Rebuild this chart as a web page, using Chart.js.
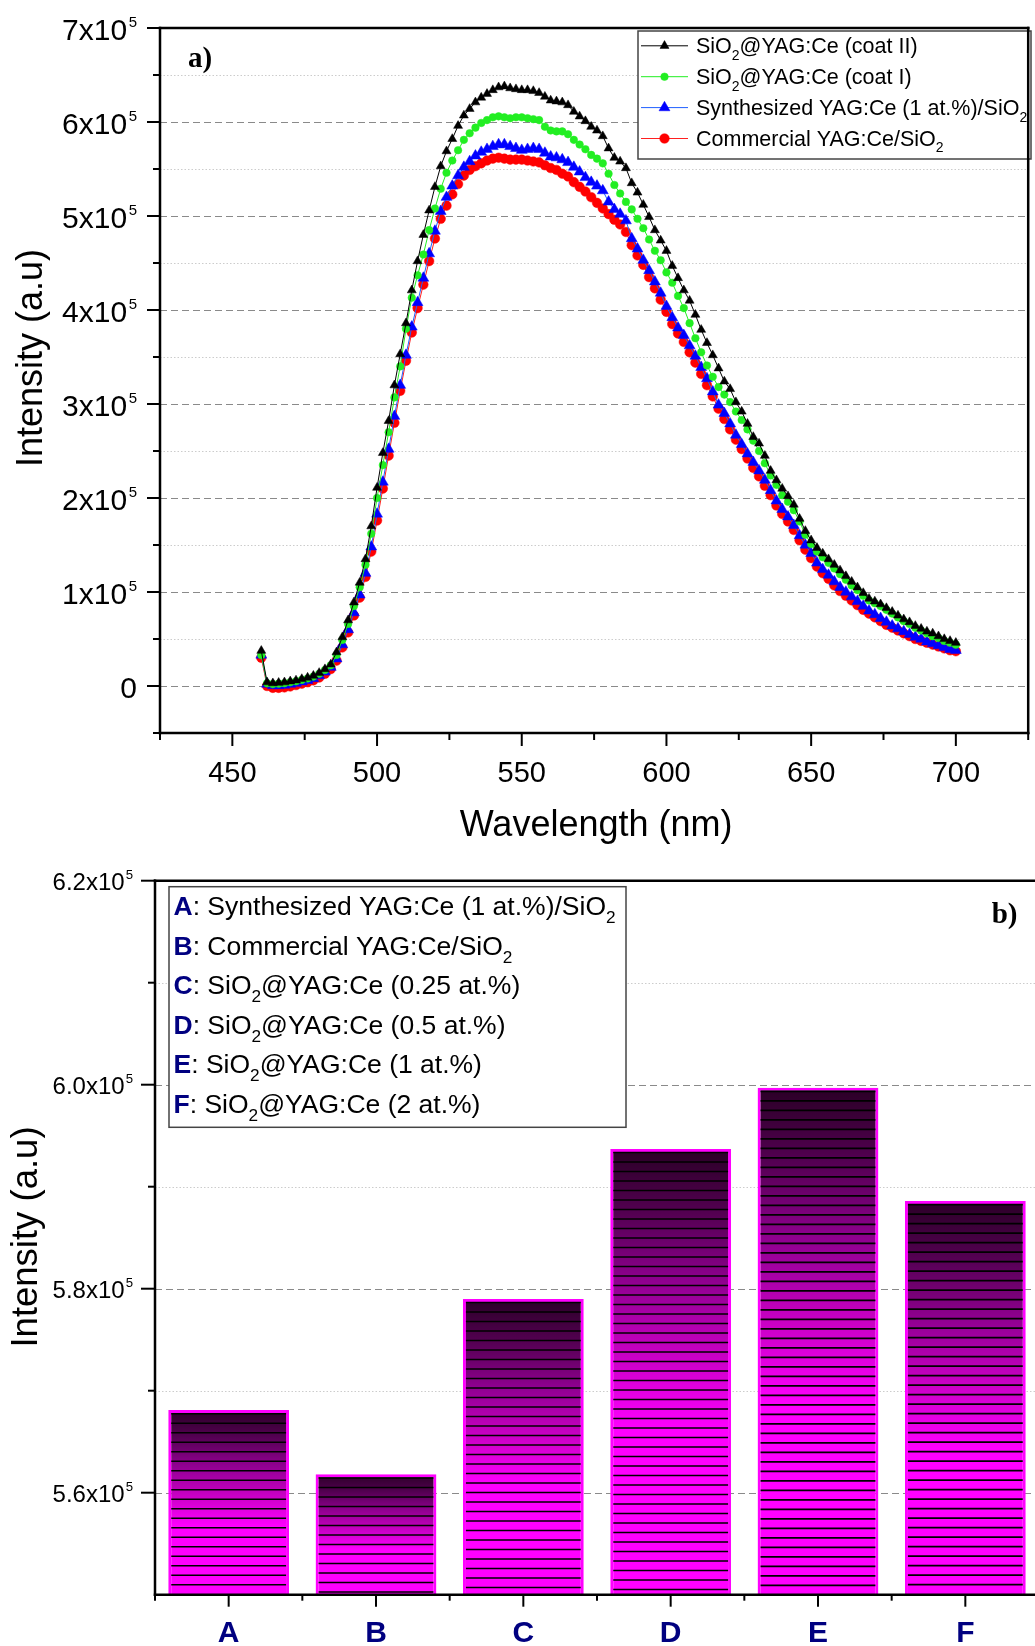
<!DOCTYPE html>
<html>
<head>
<meta charset="utf-8">
<script src="https://cdn.jsdelivr.net/npm/chart.js"></script>
<style>
  html, body { margin: 0; padding: 0; background: #fff; overflow: hidden; }
  #wrap { position: relative; width: 1035px; height: 1646px; overflow: hidden; background: #fff; }
  #topChart { position: absolute; left: 0; top: 0; }
  #barChart { position: absolute; left: 0; top: 845px; }
</style>
</head>
<body>
<div id="wrap">
  <canvas id="topChart" width="1035" height="845"></canvas>
  <canvas id="barChart" width="1045" height="801"></canvas>
</div>
<script>
// ---- panel a) emission spectra, intensity in units of 1e5 ----
const wavelengths = [
  460, 462, 464, 466, 468, 470, 472, 474, 476, 478,
  480, 482, 484, 486, 488, 490, 492, 494, 496, 498,
  500, 502, 504, 506, 508, 510, 512, 514, 516, 518,
  520, 522, 524, 526, 528, 530, 532, 534, 536, 538,
  540, 542, 544, 546, 548, 550, 552, 554, 556, 558,
  560, 562, 564, 566, 568, 570, 572, 574, 576, 578,
  580, 582, 584, 586, 588, 590, 592, 594, 596, 598,
  600, 602, 604, 606, 608, 610, 612, 614, 616, 618,
  620, 622, 624, 626, 628, 630, 632, 634, 636, 638,
  640, 642, 644, 646, 648, 650, 652, 654, 656, 658,
  660, 662, 664, 666, 668, 670, 672, 674, 676, 678,
  680, 682, 684, 686, 688, 690, 692, 694, 696, 698,
  700
];
const coatII = [
  0.375, 0.04, 0.03, 0.035, 0.04, 0.05, 0.06, 0.075, 0.09, 0.11,
  0.14, 0.18, 0.23, 0.36, 0.52, 0.70, 0.89, 1.10, 1.35, 1.70,
  2.11, 2.48, 2.82, 3.20, 3.53, 3.86, 4.21, 4.52, 4.80, 5.06,
  5.31, 5.53, 5.69, 5.82, 5.96, 6.07, 6.14, 6.21, 6.26, 6.30,
  6.34, 6.37, 6.38, 6.36, 6.35, 6.34, 6.34, 6.33, 6.31, 6.27,
  6.23, 6.22, 6.21, 6.18, 6.11, 6.06, 6.01, 5.95, 5.91, 5.85,
  5.72, 5.62, 5.58, 5.51, 5.35, 5.25, 5.12, 4.99, 4.85, 4.74,
  4.63, 4.47, 4.34, 4.21, 4.10, 3.95, 3.79, 3.65, 3.52, 3.38,
  3.24, 3.16, 3.02, 2.92, 2.79, 2.65, 2.58, 2.45, 2.29, 2.19,
  2.10, 2.02, 1.93, 1.78, 1.65, 1.55, 1.47, 1.41, 1.35, 1.29,
  1.23, 1.17, 1.11, 1.05, 0.99, 0.93, 0.90, 0.87, 0.83, 0.79,
  0.75, 0.71, 0.68, 0.64, 0.61, 0.58, 0.56, 0.53, 0.50, 0.48,
  0.46
];
const coatI = [
  0.33, 0.03, 0.02, 0.025, 0.03, 0.04, 0.05, 0.065, 0.08, 0.10,
  0.13, 0.17, 0.22, 0.33, 0.49, 0.66, 0.85, 1.05, 1.29, 1.62,
  2.00, 2.35, 2.70, 3.07, 3.40, 3.80, 4.13, 4.37, 4.59, 4.85,
  5.08, 5.29, 5.46, 5.59, 5.70, 5.81, 5.88, 5.94, 5.99, 6.02,
  6.05, 6.06, 6.05, 6.04, 6.05, 6.05, 6.04, 6.03, 6.02, 5.95,
  5.91, 5.90, 5.90, 5.87, 5.81, 5.76, 5.71, 5.65, 5.61, 5.56,
  5.45, 5.33, 5.24, 5.15, 5.07, 4.97, 4.87, 4.75, 4.63, 4.53,
  4.40, 4.29, 4.15, 4.02, 3.86, 3.70, 3.55, 3.41, 3.29, 3.18,
  3.10, 3.02, 2.92, 2.83, 2.73, 2.61, 2.50, 2.37, 2.24, 2.14,
  2.03, 1.96, 1.87, 1.75, 1.61, 1.51, 1.43, 1.37, 1.31, 1.25,
  1.19, 1.13, 1.07, 1.02, 0.96, 0.91, 0.88, 0.85, 0.81, 0.77,
  0.73, 0.69, 0.66, 0.62, 0.59, 0.56, 0.53, 0.51, 0.48, 0.46,
  0.44
];
const synthesized = [
  0.33, 0.02, 0.005, 0.005, 0.01, 0.02, 0.03, 0.045, 0.06, 0.08,
  0.11, 0.15, 0.20, 0.29, 0.44, 0.60, 0.78, 0.97, 1.20, 1.48,
  1.83, 2.17, 2.52, 2.87, 3.20, 3.52, 3.82, 4.08, 4.34, 4.60,
  4.84, 5.05, 5.20, 5.32, 5.43, 5.52, 5.58, 5.64, 5.68, 5.71,
  5.74, 5.76, 5.76, 5.74, 5.72, 5.70, 5.71, 5.72, 5.71, 5.67,
  5.63, 5.62, 5.60, 5.57, 5.52, 5.47, 5.41, 5.36, 5.32, 5.27,
  5.15, 5.07, 5.02, 4.95, 4.76, 4.65, 4.53, 4.42, 4.30, 4.18,
  4.04, 3.92, 3.81, 3.73, 3.62, 3.51, 3.39, 3.27, 3.13, 2.99,
  2.90, 2.79, 2.67, 2.57, 2.47, 2.38, 2.29, 2.19, 2.08, 1.97,
  1.88, 1.80, 1.71, 1.60, 1.50, 1.41, 1.31, 1.24, 1.18, 1.11,
  1.05, 1.00, 0.95, 0.90, 0.85, 0.80, 0.76, 0.72, 0.68, 0.64,
  0.61, 0.58, 0.55, 0.52, 0.50, 0.47, 0.45, 0.43, 0.41, 0.39,
  0.38
];
const commercial = [
  0.30, 0.00, -0.02, -0.02, -0.015, -0.005, 0.01, 0.025, 0.04, 0.06,
  0.09, 0.13, 0.18, 0.27, 0.41, 0.57, 0.75, 0.94, 1.16, 1.43,
  1.76, 2.10, 2.45, 2.80, 3.14, 3.46, 3.76, 4.02, 4.27, 4.52,
  4.76, 4.97, 5.11, 5.23, 5.34, 5.43, 5.49, 5.53, 5.56, 5.59,
  5.61, 5.62, 5.61, 5.60, 5.60, 5.60, 5.59, 5.58, 5.57, 5.54,
  5.51, 5.49, 5.45, 5.42, 5.36, 5.31, 5.26, 5.20, 5.14, 5.08,
  5.02, 4.96, 4.91, 4.83, 4.69, 4.58, 4.48, 4.35, 4.23, 4.11,
  3.98, 3.85, 3.75, 3.66, 3.55, 3.44, 3.32, 3.20, 3.08, 2.95,
  2.84, 2.73, 2.62, 2.52, 2.42, 2.32, 2.23, 2.13, 2.03, 1.92,
  1.83, 1.75, 1.66, 1.55, 1.45, 1.36, 1.27, 1.20, 1.14, 1.07,
  1.01, 0.96, 0.91, 0.86, 0.81, 0.77, 0.73, 0.69, 0.65, 0.62,
  0.59, 0.56, 0.53, 0.50, 0.48, 0.46, 0.44, 0.42, 0.40, 0.38,
  0.37
];
const seriesLabels = [
  'SiO_{2}@YAG:Ce (coat II)',
  'SiO_{2}@YAG:Ce (coat I)',
  'Synthesized YAG:Ce (1 at.%)/SiO_{2}',
  'Commercial YAG:Ce/SiO_{2}'
];
const topYTicks = [0, 1, 2, 3, 4, 5, 6, 7];
const topYTickLabels = ['0', '1x10^{5}', '2x10^{5}', '3x10^{5}', '4x10^{5}', '5x10^{5}', '6x10^{5}', '7x10^{5}'];
const topYMinor = [0.5, 1.5, 2.5, 3.5, 4.5, 5.5, 6.5];
const topXTicks = [450, 500, 550, 600, 650, 700];
const topXMinor = [425, 475, 525, 575, 625, 675, 725];

// ---- panel b) integrated intensity, units of 1e5 ----
const barLabels = ['A', 'B', 'C', 'D', 'E', 'F'];
const barValues = [5.681, 5.618, 5.790, 5.937, 5.997, 5.886];
const barNames = [
  'Synthesized YAG:Ce (1 at.%)/SiO_{2}',
  'Commercial YAG:Ce/SiO_{2}',
  'SiO_{2}@YAG:Ce (0.25 at.%)',
  'SiO_{2}@YAG:Ce (0.5 at.%)',
  'SiO_{2}@YAG:Ce (1 at.%)',
  'SiO_{2}@YAG:Ce (2 at.%)'
];
const barYTicks = [5.6, 5.8, 6.0, 6.2];
const barYTickLabels = ['5.6x10^{5}', '5.8x10^{5}', '6.0x10^{5}', '6.2x10^{5}'];
const barYMinor = [5.7, 5.9, 6.1];

const SANS = "'Liberation Sans', Arial, sans-serif";
const SERIF = "'Liberation Serif', 'Times New Roman', serif";
const NAVY = '#000080';

// small rich text helper: _{..} subscript, ^{..} superscript
function parseRich(s) {
  const out = [];
  const re = /([_^])\{([^}]*)\}/g;
  let last = 0, m;
  while ((m = re.exec(s))) {
    if (m.index > last) out.push({ t: s.slice(last, m.index), k: 'n' });
    out.push({ t: m[2], k: m[1] === '_' ? 'sub' : 'sup' });
    last = re.lastIndex;
  }
  if (last < s.length) out.push({ t: s.slice(last), k: 'n' });
  return out;
}
function drawRich(ctx, s, x, y, o) {
  const size = o.size, small = size * (o.ratio || 0.65);
  const fam = o.family || SANS, wt = o.weight || 'normal';
  const gap = o.gap || 0;
  const segs = parseRich(s);
  let w = 0;
  segs.forEach(sg => {
    ctx.font = wt + ' ' + (sg.k === 'n' ? size : small) + 'px ' + fam;
    sg.w = ctx.measureText(sg.t).width + (sg.k === 'sup' ? gap : 0);
    w += sg.w;
  });
  let cx = o.align === 'right' ? x - w : o.align === 'center' ? x - w / 2 : x;
  ctx.textAlign = 'left';
  ctx.textBaseline = 'alphabetic';
  ctx.fillStyle = o.color || '#000';
  segs.forEach(sg => {
    ctx.font = wt + ' ' + (sg.k === 'n' ? size : small) + 'px ' + fam;
    const dy = sg.k === 'sub' ? size * 0.3 : sg.k === 'sup' ? -size * (o.supRise || 0.42) : 0;
    ctx.fillText(sg.t, cx + (sg.k === 'sup' ? gap : 0), y + dy);
    cx += sg.w;
  });
  return w;
}
function seg(ctx, x1, y1, x2, y2) {
  ctx.beginPath(); ctx.moveTo(x1, y1); ctx.lineTo(x2, y2); ctx.stroke();
}
function marker(ctx, style, r, x, y, color) {
  ctx.fillStyle = color;
  ctx.strokeStyle = color;
  ctx.lineWidth = 0.5;
  ctx.beginPath();
  if (style === 'triangle') {
    ctx.moveTo(x, y - r);
    ctx.lineTo(x + 0.866 * r, y + 0.5 * r);
    ctx.lineTo(x - 0.866 * r, y + 0.5 * r);
    ctx.closePath();
  } else {
    ctx.arc(x, y, r, 0, Math.PI * 2);
  }
  ctx.fill(); ctx.stroke();
}

const seriesStyle = [
  { color: '#000000', line: '#000000', style: 'triangle', r: 5.2 },
  { color: '#22ee22', line: '#22ee22', style: 'circle', r: 3.8 },
  { color: '#0000ff', line: '#1f5fff', style: 'triangle', r: 6.3 },
  { color: '#ff0000', line: '#ff2020', style: 'circle', r: 4.8 }
];
const seriesValues = [coatII, coatI, synthesized, commercial];

const topDecor = {
  id: 'topDecor',
  beforeDatasetsDraw(chart) {
    const { ctx, chartArea: a, scales: { y } } = chart;
    ctx.save();
    ctx.lineWidth = 1;
    ctx.strokeStyle = '#cccccc';
    ctx.setLineDash([1.5, 2]);
    topYMinor.forEach(v => {
      const py = Math.round(y.getPixelForValue(v)) + 0.5;
      seg(ctx, a.left, py, a.right, py);
    });
    ctx.strokeStyle = '#8a8a8a';
    ctx.lineWidth = 1.2;
    ctx.setLineDash([7, 4]);
    topYTicks.forEach(v => {
      if (v >= y.max) return;
      const py = Math.round(y.getPixelForValue(v)) + 0.5;
      seg(ctx, a.left, py, a.right, py);
    });
    ctx.restore();
  },
  afterDatasetsDraw(chart) {
    const { ctx, chartArea: a, scales: { x, y } } = chart;
    ctx.save();
    // legend
    const lx = 638, ly = 31, lw = 393, lh = 128;
    ctx.fillStyle = '#fff';
    ctx.fillRect(lx, ly, lw, lh);
    ctx.strokeStyle = '#444';
    ctx.lineWidth = 1.5;
    ctx.strokeRect(lx, ly, lw, lh);
    chart.data.datasets.forEach((ds, i) => {
      const st = seriesStyle[i];
      const base = 53.3 + i * 30.9;
      const my = base - 7.5;
      ctx.strokeStyle = st.line;
      ctx.lineWidth = 1;
      seg(ctx, 641, my, 688, my);
      marker(ctx, st.style, st.r, 664.5, my, st.color);
      drawRich(ctx, ds.label, 696, base, { size: 21.5 });
    });
    // axes
    ctx.strokeStyle = '#000';
    ctx.lineWidth = 2.5;
    ctx.lineCap = 'square';
    seg(ctx, a.left, a.top, a.left, a.bottom);
    seg(ctx, a.left, a.bottom, a.right, a.bottom);
    seg(ctx, a.left, a.top, a.right, a.top);
    seg(ctx, a.right, a.top, a.right, a.bottom);
    ctx.lineCap = 'butt';
    ctx.lineWidth = 2;
    topYTicks.forEach((v, i) => {
      const py = y.getPixelForValue(v);
      seg(ctx, a.left - 13, py, a.left, py);
      drawRich(ctx, topYTickLabels[i], 137, py + 12, { size: 30, ratio: 0.5, gap: 1.5, supRise: 0.45, align: 'right' });
    });
    topYMinor.concat([-0.5]).forEach(v => {
      const py = y.getPixelForValue(v);
      seg(ctx, a.left - 7, py, a.left, py);
    });
    topXTicks.forEach(v => {
      const px = x.getPixelForValue(v);
      seg(ctx, px, a.bottom, px, a.bottom + 13);
      drawRich(ctx, String(v), px, a.bottom + 49, { size: 29, align: 'center' });
    });
    topXMinor.forEach(v => {
      const px = x.getPixelForValue(v);
      seg(ctx, px, a.bottom, px, a.bottom + 7);
    });
    // titles
    drawRich(ctx, 'Wavelength (nm)', (a.left + a.right) / 2 + 2, 836, { size: 36, align: 'center' });
    ctx.translate(42, 358);
    ctx.rotate(-Math.PI / 2);
    drawRich(ctx, 'Intensity (a.u)', 0, 0, { size: 36, align: 'center' });
    ctx.setTransform(1, 0, 0, 1, 0, 0);
    drawRich(ctx, 'a)', 188, 67, { size: 29, weight: 'bold', family: SERIF });
    ctx.restore();
  }
};

new Chart(document.getElementById('topChart'), {
  type: 'line',
  data: {
    datasets: seriesValues.map((vals, i) => ({
      label: seriesLabels[i],
      data: wavelengths.map((w, j) => ({ x: w, y: vals[j] })),
      borderColor: seriesStyle[i].line,
      borderWidth: 1,
      backgroundColor: seriesStyle[i].color,
      pointStyle: seriesStyle[i].style,
      pointRadius: seriesStyle[i].r,
      pointBackgroundColor: seriesStyle[i].color,
      pointBorderColor: seriesStyle[i].color,
      pointBorderWidth: 0.5,
      tension: 0,
      fill: false
    }))
  },
  options: {
    responsive: false,
    animation: false,
    events: [],
    layout: { padding: { top: 28, right: 2, left: 0, bottom: 0 } },
    plugins: { legend: { display: false }, tooltip: { enabled: false } },
    scales: {
      x: {
        type: 'linear', min: 425, max: 725,
        grid: { display: false }, border: { display: false }, ticks: { display: false },
        afterFit(s) { s.height = 112; }
      },
      y: {
        type: 'linear', min: -0.5, max: 7,
        grid: { display: false }, border: { display: false }, ticks: { display: false },
        afterFit(s) { s.width = 160; }
      }
    }
  },
  plugins: [topDecor]
});

// ---- panel b) ----
function barFill(c) {
  const y = c.chart.scales.y;
  if (!y || typeof c.raw !== 'number') return '#ff00ff';
  const top = y.getPixelForValue(c.raw), base = y.getPixelForValue(y.min);
  if (!Number.isFinite(top) || !Number.isFinite(base) || top === base) return '#ff00ff';
  const g = c.chart.ctx.createLinearGradient(0, top, 0, base);
  g.addColorStop(0, '#2a0026');
  g.addColorStop(0.14, '#520050');
  g.addColorStop(0.3, '#900090');
  g.addColorStop(0.45, '#c400c0');
  g.addColorStop(0.63, '#ff00ff');
  g.addColorStop(1, '#ff00ff');
  return g;
}

const barDecor = {
  id: 'barDecor',
  beforeDatasetsDraw(chart) {
    const { ctx, chartArea: a, scales: { y } } = chart;
    ctx.save();
    ctx.lineWidth = 1;
    ctx.strokeStyle = '#cccccc';
    ctx.setLineDash([1.5, 2]);
    barYMinor.forEach(v => {
      const py = Math.round(y.getPixelForValue(v)) + 0.5;
      seg(ctx, a.left, py, a.right, py);
    });
    ctx.strokeStyle = '#8a8a8a';
    ctx.lineWidth = 1.2;
    ctx.setLineDash([7, 4]);
    barYTicks.forEach(v => {
      if (v >= y.max) return;
      const py = Math.round(y.getPixelForValue(v)) + 0.5;
      seg(ctx, a.left, py, a.right, py);
    });
    ctx.restore();
  },
  afterDatasetsDraw(chart) {
    const { ctx, chartArea: a, scales: { x, y } } = chart;
    const meta = chart.getDatasetMeta(0);
    ctx.save();
    // horizontal stripes inside each bar, kept inside the plot area
    ctx.strokeStyle = '#000';
    ctx.lineWidth = 1.6;
    meta.data.forEach(bar => {
      const p = bar.getProps(['x', 'y', 'base', 'width'], true);
      const l = p.x - p.width / 2 + 3, r = p.x + p.width / 2 - 3;
      const bottom = Math.min(p.base, a.bottom) - 2;
      for (let sy = p.y + 3.6; sy < bottom; sy += 9.5) seg(ctx, l, sy, r, sy);
    });
    // legend
    const lx = 169, ly = 41.7, lw = 457, lh = 240.6;
    ctx.fillStyle = '#fff';
    ctx.fillRect(lx, ly, lw, lh);
    ctx.strokeStyle = '#444';
    ctx.lineWidth = 1.5;
    ctx.strokeRect(lx, ly, lw, lh);
    barLabels.forEach((lab, i) => {
      const base = 70 + i * 39.6;
      const w = drawRich(ctx, lab, 173.5, base, { size: 26.5, weight: 'bold', color: NAVY });
      drawRich(ctx, ': ' + barNames[i], 173.5 + w, base, { size: 26.5 });
    });
    // axes
    ctx.strokeStyle = '#000';
    ctx.lineWidth = 2.5;
    ctx.lineCap = 'square';
    seg(ctx, a.left, a.top, a.left, a.bottom);
    seg(ctx, a.left, a.bottom, a.right, a.bottom);
    seg(ctx, a.left, a.top, a.right, a.top);
    seg(ctx, a.right, a.top, a.right, a.bottom);
    ctx.lineCap = 'butt';
    ctx.lineWidth = 2;
    barYTicks.forEach((v, i) => {
      const py = y.getPixelForValue(v);
      seg(ctx, a.left - 14, py, a.left, py);
      drawRich(ctx, barYTickLabels[i], 133, py + 9.5, { size: 24, ratio: 0.55, gap: 1, supRise: 0.45, align: 'right' });
    });
    barYMinor.forEach(v => {
      const py = y.getPixelForValue(v);
      seg(ctx, a.left - 7, py, a.left, py);
    });
    const half = (x.getPixelForValue(1) - x.getPixelForValue(0)) / 2;
    barLabels.forEach((lab, i) => {
      const px = x.getPixelForValue(i);
      seg(ctx, px, a.bottom, px, a.bottom + 12);
      seg(ctx, px - half, a.bottom, px - half, a.bottom + 6);
      drawRich(ctx, lab, px, 797, { size: 30, weight: 'bold', color: NAVY, align: 'center' });
    });
    ctx.translate(37, 392);
    ctx.rotate(-Math.PI / 2);
    drawRich(ctx, 'Intensity (a.u)', 0, 0, { size: 36.5, align: 'center' });
    ctx.setTransform(1, 0, 0, 1, 0, 0);
    drawRich(ctx, 'b)', 991.7, 78, { size: 29, weight: 'bold', family: SERIF });
    ctx.restore();
  }
};

new Chart(document.getElementById('barChart'), {
  type: 'bar',
  data: {
    labels: barLabels,
    datasets: [{
      data: barValues,
      borderColor: '#ff00ff',
      borderWidth: 3,
      borderSkipped: false,
      categoryPercentage: 1,
      barPercentage: 0.82,
      backgroundColor: barFill
    }]
  },
  options: {
    responsive: false,
    animation: false,
    events: [],
    layout: { padding: { top: 35.7, right: 6, left: 0, bottom: 0 } },
    plugins: { legend: { display: false }, tooltip: { enabled: false } },
    scales: {
      x: {
        type: 'category', offset: true,
        grid: { display: false }, border: { display: false }, ticks: { display: false },
        afterFit(s) { s.height = 51.3; }
      },
      y: {
        type: 'linear', min: 5.5, max: 6.2,
        grid: { display: false }, border: { display: false }, ticks: { display: false },
        afterFit(s) { s.width = 155; }
      }
    }
  },
  plugins: [barDecor]
});
</script>
</body>
</html>
